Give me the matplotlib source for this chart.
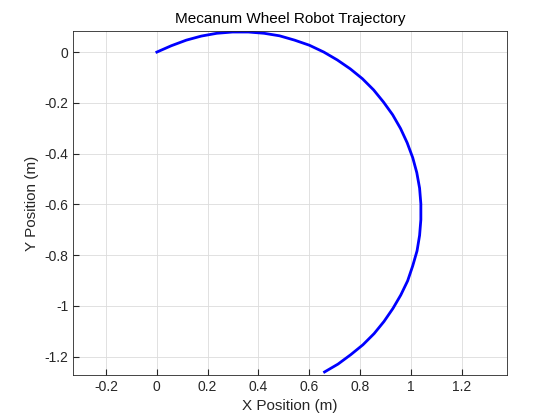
import matplotlib
matplotlib.use("Agg")
import matplotlib.pyplot as plt

plt.rcParams["font.family"] = ["Liberation Sans", "DejaVu Sans"]

# trajectory points
x_pos = [0.0, 0.057, 0.116, 0.175, 0.236, 0.298, 0.360, 0.422, 0.483, 0.542,
         0.600, 0.657, 0.710, 0.761, 0.809, 0.853, 0.892, 0.928, 0.959, 0.985,
         1.007, 1.023, 1.034, 1.039, 1.039, 1.034, 1.024, 1.007, 0.987, 0.960,
         0.929, 0.894, 0.855, 0.811, 0.763, 0.713, 0.66]
y_pos = [0.0, 0.025, 0.047, 0.063, 0.074, 0.079, 0.079, 0.074, 0.064, 0.047,
         0.027, 0.000, -0.031, -0.066, -0.105, -0.149, -0.197, -0.247, -0.301, -0.357,
         -0.416, -0.475, -0.536, -0.598, -0.660, -0.722, -0.783, -0.842, -0.901, -0.957,
         -1.010, -1.061, -1.109, -1.153, -1.192, -1.229, -1.26]

x_ticks = [-0.2, 0, 0.2, 0.4, 0.6, 0.8, 1, 1.2]
x_labels = ["-0.2", "0", "0.2", "0.4", "0.6", "0.8", "1", "1.2"]
y_ticks = [0, -0.2, -0.4, -0.6, -0.8, -1, -1.2]
y_labels = ["0", "-0.2", "-0.4", "-0.6", "-0.8", "-1", "-1.2"]

fig = plt.figure(figsize=(5.6, 4.2), dpi=100)
ax = fig.add_axes([73/560, 45/420, 434/560, 344/420])
ax.plot(x_pos, y_pos, color=(0, 0, 1), linewidth=2, solid_joinstyle="round")

ax.set_xlim(-0.33, 1.378)
ax.set_ylim(-1.272, 0.083)
ax.set_xticks(x_ticks, x_labels)
ax.set_yticks(y_ticks, y_labels)
ax.tick_params(direction="in", labelsize=10, colors="#262626", length=4)
ax.grid(True, color="#dcdcdc", linewidth=0.6)
ax.set_axisbelow(True)
for s in ax.spines.values():
    s.set_color("#262626")
    s.set_linewidth(0.6)

ax.set_xlabel("X Position (m)", fontsize=11, color="#262626")
ax.set_ylabel("Y Position (m)", fontsize=11, color="#262626")
ax.set_title("Mecanum Wheel Robot Trajectory", fontsize=11, color="black")

fig.savefig("out.png", dpi=100)
